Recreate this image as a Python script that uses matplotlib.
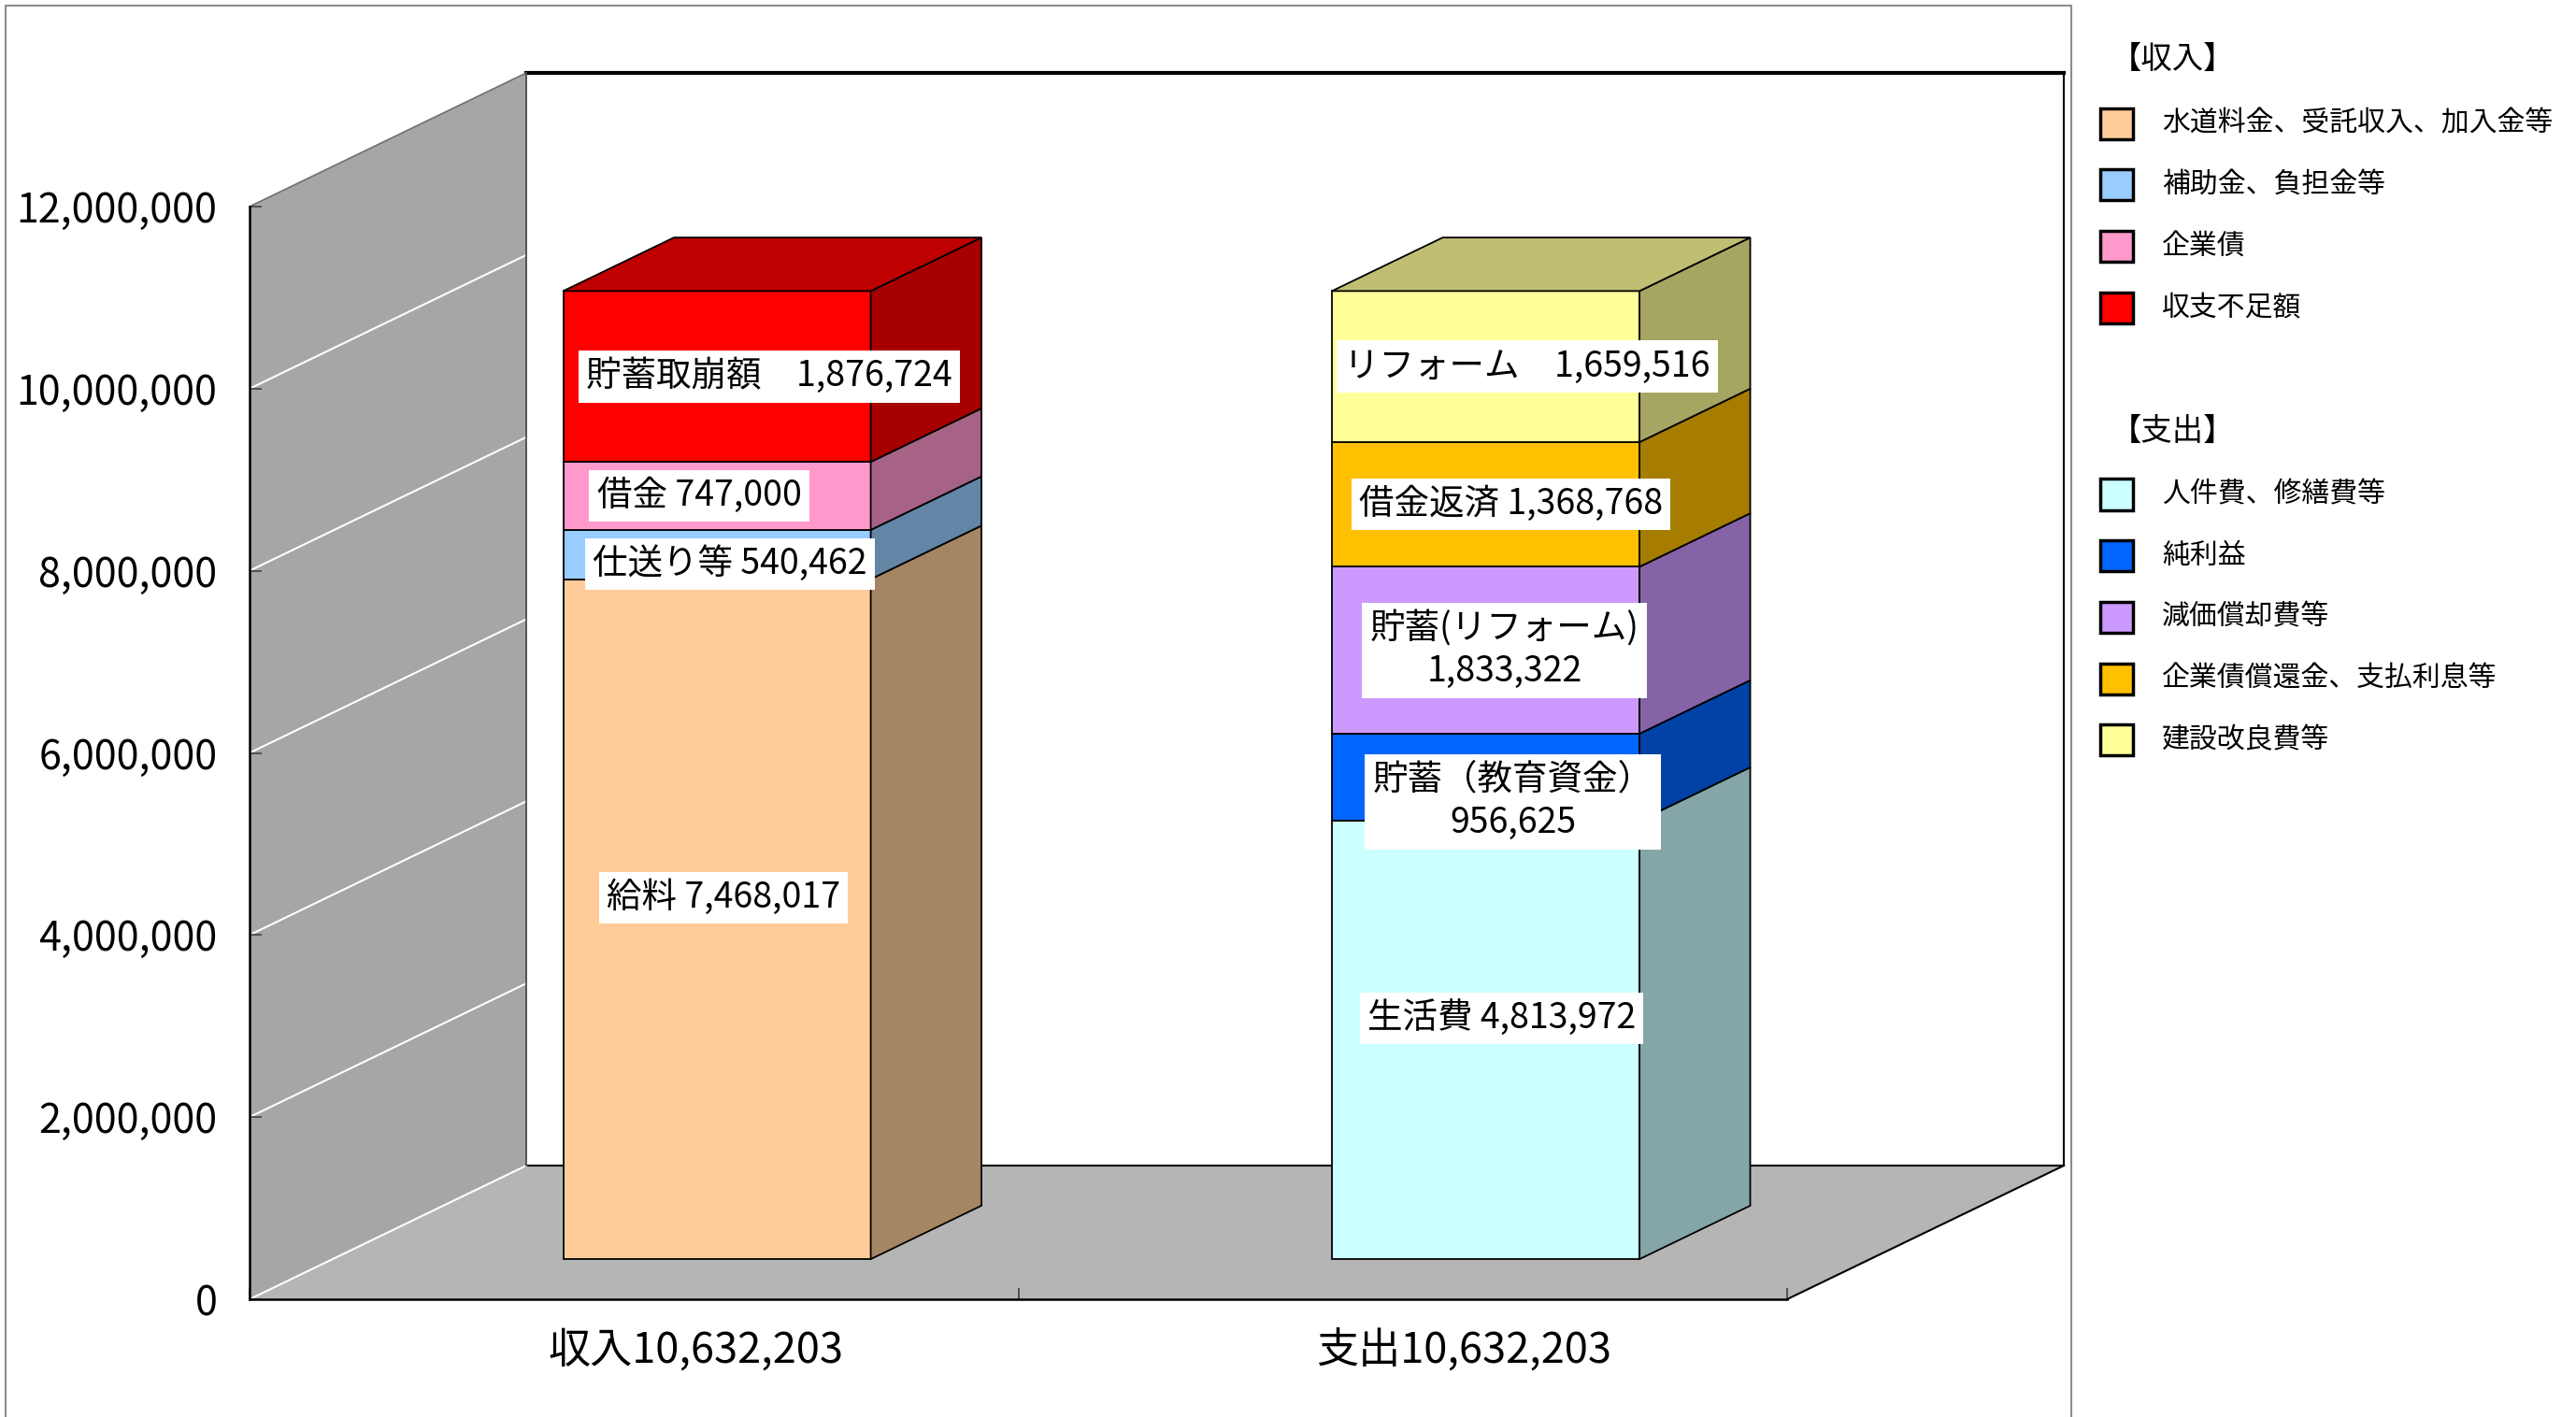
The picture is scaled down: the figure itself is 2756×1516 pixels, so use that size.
import matplotlib
matplotlib.use('Agg')
import matplotlib.pyplot as plt
from matplotlib.patches import Polygon, Rectangle
from matplotlib.lines import Line2D
from matplotlib.colors import to_rgb
from matplotlib.ticker import FuncFormatter

plt.rcParams['font.family'] = ['Noto Sans CJK JP', 'DejaVu Sans']

# ---- data ----
categories = ['収入10,632,203', '支出10,632,203']

income_labels = ['給料 7,468,017', '仕送り等 540,462', '借金 747,000', '貯蓄取崩額　1,876,724']
income_values = [7468017, 540462, 747000, 1876724]
income_colors = ['#FFCC99', '#99CCFF', '#FF99CC', '#FF0000']

expense_labels = ['生活費 4,813,972', '貯蓄（教育資金）\n956,625', '貯蓄(リフォーム)\n1,833,322',
                  '借金返済 1,368,768', 'リフォーム　1,659,516']
expense_values = [4813972, 956625, 1833322, 1368768, 1659516]
expense_colors = ['#CCFFFF', '#0066FF', '#CC99FF', '#FFC000', '#FFFF99']

legend_income = ['水道料金、受託収入、加入金等', '補助金、負担金等', '企業債', '収支不足額']
legend_expense = ['人件費、修繕費等', '純利益', '減価償却費等', '企業債償還金、支払利息等', '建設改良費等']

y_ticks = [0, 2000000, 4000000, 6000000, 8000000, 10000000, 12000000]

# label nudges in pixels (right, down) from the front-face centre of each segment
income_nudge = [(7, -23), (14, 10), (-19, 0), (56, 0)]
expense_nudge = [(17, -23), (29, 26), (20, 0), (27, 0), (44, 0)]

# ---- geometry ----
W, H = 2756, 1516
DX, DY = 0.36, 1.468e6      # full depth of the 3D box in data units
F_FRONT, F_BACK = 0.3, 0.7  # depth range occupied by the bars
BAR_W = 0.4
YMAX = 12e6


def shade(c, k):
    r, g, b = to_rgb(c)
    return (r * k, g * k, b * k)


def fig_xy(x, y):
    return (x / W, 1 - y / H)


fig = plt.figure(figsize=(W / 100, H / 100), dpi=100)
ax = fig.add_axes([267 / W, (H - 1390) / H, 1645 / W, 1169 / H])
ax.set_xlim(0, 2)
ax.set_ylim(0, YMAX)
ax.set_facecolor('none')

# outer frame
fig.add_artist(Rectangle(fig_xy(6, 1530), 2210 / W, 1524 / H, transform=fig.transFigure,
                         fill=False, ec='#8c8c8c', lw=1.5))

# back wall
ax.add_patch(Rectangle((DX, DY), 2, YMAX, fc='white', ec='none', zorder=0.5, clip_on=False))
ax.add_line(Line2D([DX, 2 + DX], [YMAX + DY, YMAX + DY], color='black', lw=3, zorder=1, clip_on=False))
ax.add_line(Line2D([2 + DX, 2 + DX], [DY, YMAX + DY], color='black', lw=1.5, zorder=1, clip_on=False))
ax.add_line(Line2D([DX, DX], [DY, YMAX + DY], color='#404040', lw=1.2, zorder=1.6, clip_on=False))

# left wall
ax.add_patch(Polygon([(0, 0), (DX, DY), (DX, YMAX + DY), (0, YMAX)], closed=True,
                     fc='#a6a6a6', ec='none', zorder=1, clip_on=False))
ax.add_line(Line2D([0, DX], [YMAX, YMAX + DY], color='#707070', lw=1.2, zorder=1.5, clip_on=False))
for v in y_ticks[:-1]:
    ax.add_line(Line2D([0, DX], [v, v + DY], color='white', lw=1.5, zorder=1.5, clip_on=False))

# floor
ax.add_patch(Polygon([(0, 0), (2, 0), (2 + DX, DY), (DX, DY)], closed=True,
                     fc='#b5b5b5', ec='none', zorder=1, clip_on=False))
ax.add_line(Line2D([DX, 2 + DX], [DY, DY], color='black', lw=1.5, zorder=1.2, clip_on=False))
ax.add_line(Line2D([2, 2 + DX], [0, DY], color='black', lw=1.5, zorder=1.2, clip_on=False))

fx, fy = F_FRONT * DX, F_FRONT * DY
bx, by = F_BACK * DX, F_BACK * DY


def draw_stack(i, values, colors, labels, nudges):
    left = i + 0.5 - BAR_W / 2
    right = i + 0.5 + BAR_W / 2
    bottom = 0
    for k, (v, c, lab, (nx, ny)) in enumerate(zip(values, colors, labels, nudges)):
        top = bottom + v
        ax.add_patch(Rectangle((left + fx, bottom + fy), BAR_W, v, fc=c, ec='black', lw=1.3,
                               zorder=3, clip_on=False))
        ax.add_patch(Polygon([(right + fx, bottom + fy), (right + bx, bottom + by),
                              (right + bx, top + by), (right + fx, top + fy)], closed=True,
                             fc=shade(c, 0.65), ec='black', lw=1.3, zorder=3, clip_on=False))
        if k == len(values) - 1:
            ax.add_patch(Polygon([(left + fx, top + fy), (right + fx, top + fy),
                                  (right + bx, top + by), (left + bx, top + by)], closed=True,
                                 fc=shade(c, 0.75), ec='black', lw=1.3, zorder=3, clip_on=False))
        ax.annotate(lab, xy=(i + 0.5 + fx, bottom + v / 2 + fy), xytext=(nx * 0.72, -ny * 0.72),
                    textcoords='offset points', ha='center', va='center', fontsize=27,
                    linespacing=1.25, zorder=5, annotation_clip=False,
                    bbox=dict(boxstyle='square,pad=0.22', fc='white', ec='none'))
        bottom = top


draw_stack(0, income_values, income_colors, income_labels, income_nudge)
draw_stack(1, expense_values, expense_colors, expense_labels, expense_nudge)

# axes
for s in ['top', 'right']:
    ax.spines[s].set_visible(False)
for s in ['left', 'bottom']:
    ax.spines[s].set_color('black')
    ax.spines[s].set_linewidth(1.8)
    ax.spines[s].set_zorder(2)

ax.set_yticks(y_ticks)
ax.yaxis.set_major_formatter(FuncFormatter(lambda v, p: f'{int(v):,}'))
ax.tick_params(axis='y', direction='in', length=9, width=1.2, color='#404040',
               labelsize=31, pad=25)
ax.set_xticks([0, 1, 2])
ax.set_xticklabels([])
ax.tick_params(axis='x', direction='in', length=9, width=1.2, color='#404040')

for i, cat in enumerate(categories):
    ax.annotate(cat, xy=(i + 0.5 + 0.08, 0), xytext=(0, -55 * 0.72), textcoords='offset points',
                ha='center', va='center', fontsize=32.5, annotation_clip=False)

# legend
def legend_block(title, names, colors, title_y, first_y):
    fig.text(*fig_xy(2258, title_y), title, fontsize=24, ha='left', va='center')
    for j, (n, c) in enumerate(zip(names, colors)):
        y = first_y + j * 65.7
        fig.add_artist(Rectangle(fig_xy(2247, y + 16.5), 35 / W, 33 / H, transform=fig.transFigure,
                                 fc=c, ec='black', lw=2.5))
        fig.text(*fig_xy(2313, y), n, fontsize=21.5, ha='left', va='center')


legend_block('【収入】', legend_income, income_colors, 63, 132)
legend_block('【支出】', legend_expense, expense_colors, 461, 529)

fig.savefig('out.png', dpi=100)
